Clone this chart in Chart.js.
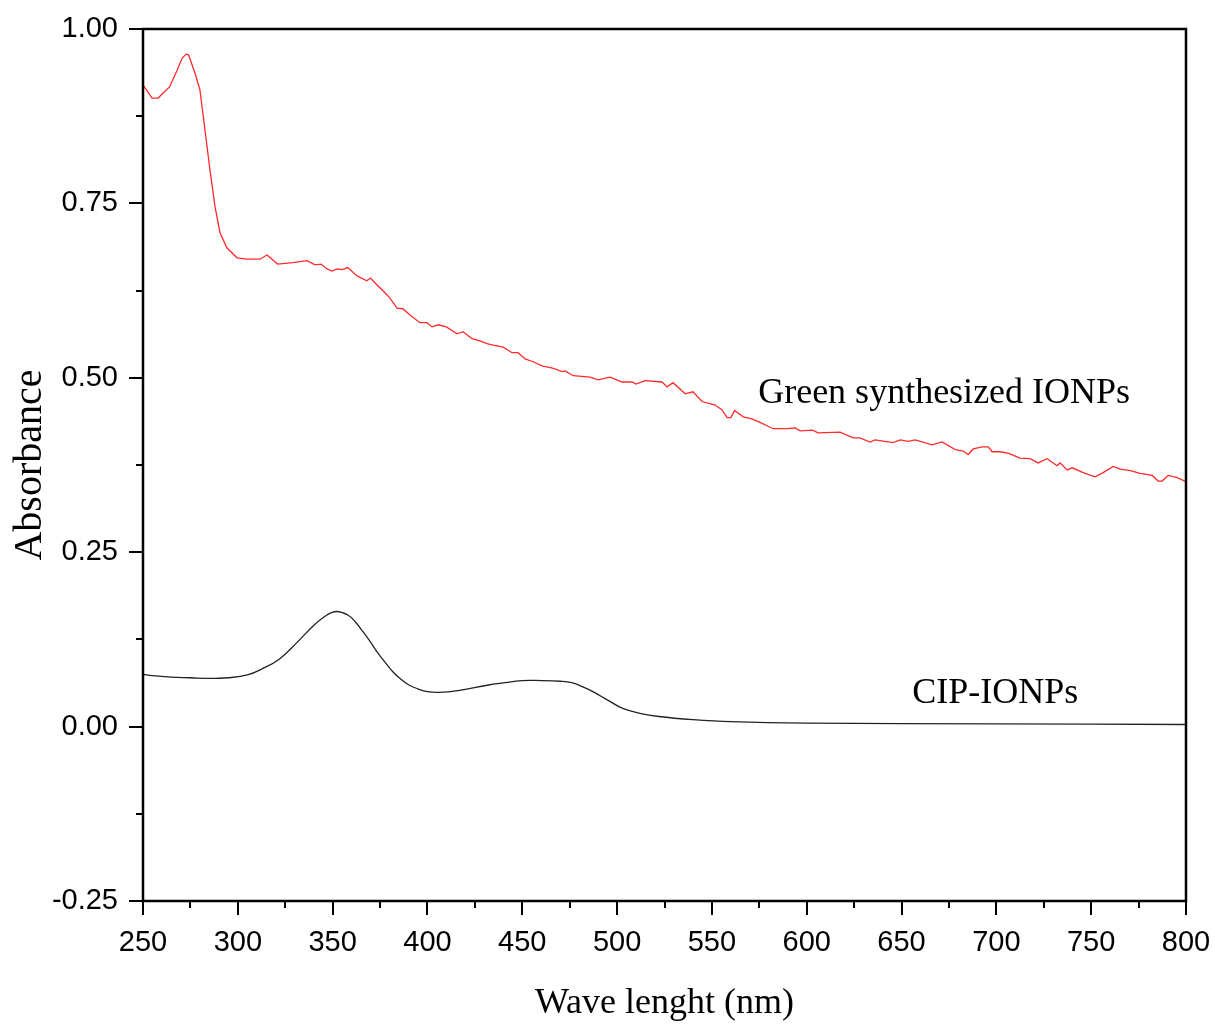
<!DOCTYPE html>
<html>
<head>
<meta charset="utf-8">
<script src="https://cdn.jsdelivr.net/npm/chart.js@4.4.1/dist/chart.umd.min.js"></script>
<style>
  html, body { margin: 0; padding: 0; background: #fff; }
</style>
</head>
<body>
<canvas id="chart" width="1215" height="1025"></canvas>
<script>
// Green synthesized IONPs (red trace)
const greenNm = [250, 254.7, 258, 260.5, 264, 268, 270.6, 272.7, 274, 277.4, 280, 282.7, 285.3, 288, 290.6,
  294.3, 299.6, 304.9, 311.7, 315.4, 321, 329, 336.5, 340.7, 343.9, 347, 349.7, 352.3, 355, 358, 362.9,
  368, 370, 372.4, 377.6, 380, 384, 387, 390.8, 396, 399.8, 402.4, 405.6, 410, 415.6, 418.8, 423.5,
  427.7, 431.4, 434.6, 439.9, 444.6, 447.8, 451.5, 455.7, 460.4, 466, 471, 472.6, 476.8, 485.8, 490,
  496.3, 502.6, 507.9, 510, 514.8, 523.7, 526.4, 529.5, 535.9, 540, 544.8, 551.7, 555.4, 558, 560, 562,
  566.5, 571, 575.4, 582.3, 589.7, 593.9, 596.5, 603, 606, 617.6, 624.5, 628, 633.4, 636, 645.6, 649.3,
  653.5, 657.2, 666.1, 671.4, 678.3, 682.5, 685.1, 687.8, 692.5, 695.7, 697.8, 702, 706.2, 712.5, 717.8,
  722, 726.8, 732, 733.6, 737.3, 740, 745.8, 752, 756.3, 761.6, 765.3, 770.6, 775.8, 782.2, 785.3, 787.4,
  790.6, 795.4, 800];
const greenAbs = [0.920, 0.901, 0.901, 0.908, 0.917, 0.941, 0.958, 0.964, 0.963, 0.937, 0.913, 0.855, 0.798, 0.745, 0.708,
  0.686, 0.672, 0.670, 0.670, 0.676, 0.663, 0.665, 0.668, 0.662, 0.663, 0.656, 0.653, 0.656, 0.655, 0.658, 0.646,
  0.639, 0.643, 0.636, 0.622, 0.615, 0.600, 0.599, 0.590, 0.579, 0.579, 0.573, 0.576, 0.573, 0.563, 0.566, 0.556,
  0.553, 0.549, 0.547, 0.544, 0.536, 0.536, 0.527, 0.523, 0.517, 0.514, 0.509, 0.510, 0.503, 0.501, 0.497,
  0.501, 0.494, 0.494, 0.491, 0.496, 0.494, 0.487, 0.493, 0.477, 0.480, 0.466, 0.461, 0.454, 0.443, 0.443, 0.453,
  0.444, 0.441, 0.436, 0.427, 0.427, 0.428, 0.424, 0.425, 0.421, 0.422, 0.414, 0.414, 0.408, 0.411, 0.407, 0.411,
  0.409, 0.411, 0.404, 0.408, 0.397, 0.395, 0.390, 0.398, 0.401, 0.401, 0.394, 0.394, 0.392, 0.385, 0.384,
  0.378, 0.384, 0.374, 0.378, 0.368, 0.371, 0.364, 0.358, 0.364, 0.373, 0.369, 0.367, 0.363, 0.360, 0.352, 0.352,
  0.360, 0.357, 0.351];

// CIP-IONPs (black trace)
const cipNm = [250, 255, 265, 275, 285, 295, 305, 313, 322, 331, 340, 347, 352, 358, 362, 366, 370, 374, 378,
  382, 386, 390, 395, 400, 406, 416, 433, 450, 460, 470, 476, 482, 488, 495, 503, 512, 522, 540, 560, 600, 700, 800];
const cipAbs = [0.075, 0.073, 0.071, 0.070, 0.069, 0.070, 0.074, 0.083, 0.097, 0.120, 0.145, 0.160, 0.165, 0.160,
  0.150, 0.136, 0.121, 0.105, 0.091, 0.078, 0.068, 0.060, 0.054, 0.050, 0.049, 0.0515, 0.060, 0.066, 0.066,
  0.065, 0.063, 0.057, 0.049, 0.038, 0.026, 0.019, 0.0145, 0.010, 0.007, 0.005, 0.004, 0.003];

const xTicks = [250, 300, 350, 400, 450, 500, 550, 600, 650, 700, 750, 800];
const yTicks = [-0.25, 0, 0.25, 0.5, 0.75, 1];

const notes = [
  { text: 'Green synthesized IONPs', x: 574.4, y: 0.464 },
  { text: 'CIP-IONPs', x: 655.6, y: 0.034 }
];

const tickFont = { family: '"Liberation Sans", Arial, sans-serif', size: 29 };
const titleFont = { family: '"Liberation Serif", "Times New Roman", serif', size: 36 };

function isMajor(v, list) {
  return list.some(t => Math.abs(t - v) < 1e-6);
}

function noPad(s) {
  s.paddingTop = 0;
  s.paddingBottom = 0;
  s.paddingLeft = 0;
  s.paddingRight = 0;
}

const framePlugin = {
  id: 'frame',
  afterDraw(chart) {
    const { ctx, chartArea: a } = chart;
    const x = chart.scales.x, y = chart.scales.y;
    ctx.save();
    ctx.strokeStyle = '#000';
    ctx.lineWidth = 2.5;
    ctx.strokeRect(a.left, a.top, a.right - a.left, a.bottom - a.top);

    ctx.lineWidth = 2;
    ctx.beginPath();
    x.ticks.forEach(t => {
      const px = Math.round(x.getPixelForValue(t.value));
      const len = isMajor(t.value, xTicks) ? 14 : 7;
      ctx.moveTo(px, a.bottom);
      ctx.lineTo(px, a.bottom + len);
    });
    y.ticks.forEach(t => {
      const py = Math.round(y.getPixelForValue(t.value));
      const len = isMajor(t.value, yTicks) ? 14 : 7;
      ctx.moveTo(a.left, py);
      ctx.lineTo(a.left - len, py);
    });
    ctx.stroke();

    ctx.fillStyle = '#000';
    ctx.font = titleFont.size + 'px ' + titleFont.family;
    ctx.textBaseline = 'alphabetic';
    ctx.textAlign = 'left';
    notes.forEach(n => {
      ctx.fillText(n.text, x.getPixelForValue(n.x), y.getPixelForValue(n.y));
    });
    ctx.restore();
  }
};

new Chart(document.getElementById('chart'), {
  type: 'line',
  data: {
    datasets: [
      {
        label: 'Green synthesized IONPs',
        data: greenNm.map((v, i) => ({ x: v, y: greenAbs[i] })),
        borderColor: '#ff2a2a',
        borderWidth: 1.3,
        pointRadius: 0,
        tension: 0,
        fill: false
      },
      {
        label: 'CIP-IONPs',
        data: cipNm.map((v, i) => ({ x: v, y: cipAbs[i] })),
        borderColor: '#222',
        borderWidth: 1.3,
        pointRadius: 0,
        tension: 0.4,
        fill: false
      }
    ]
  },
  options: {
    responsive: false,
    animation: false,
    layout: { padding: { top: 29, right: 29, left: 0, bottom: 0 } },
    plugins: { legend: { display: false }, tooltip: { enabled: false } },
    scales: {
      x: {
        type: 'linear',
        min: 250,
        max: 800,
        grid: { display: false, drawTicks: false, tickLength: 0 },
        border: { display: false },
        ticks: {
          stepSize: 25,
          maxTicksLimit: 100,
          autoSkip: false,
          maxRotation: 0,
          padding: 25,
          color: '#000',
          font: tickFont,
          callback: v => isMajor(v, xTicks) ? String(Math.round(v)) : ''
        },
        title: {
          display: true,
          text: 'Wave lenght (nm)',
          color: '#000',
          font: titleFont,
          padding: { top: 0, bottom: 0 }
        },
        afterFit: s => { s.height = 124; noPad(s); }
      },
      y: {
        type: 'linear',
        min: -0.25,
        max: 1,
        grid: { display: false, drawTicks: false, tickLength: 0 },
        border: { display: false },
        ticks: {
          stepSize: 0.125,
          maxTicksLimit: 100,
          autoSkip: false,
          padding: 25,
          color: '#000',
          font: tickFont,
          callback: v => isMajor(v, yTicks) ? v.toFixed(2) : ''
        },
        title: {
          display: true,
          text: 'Absorbance',
          color: '#000',
          font: { family: titleFont.family, size: 40 },
          padding: { top: 6, bottom: 0 }
        },
        afterFit: s => { s.width = 143; noPad(s); }
      }
    }
  },
  plugins: [framePlugin]
});
</script>
</body>
</html>
